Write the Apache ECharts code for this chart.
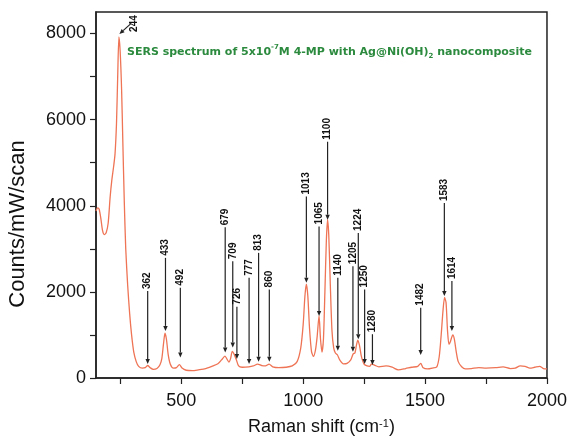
<!DOCTYPE html>
<html>
<head>
<meta charset="utf-8">
<script src="https://cdn.jsdelivr.net/npm/echarts@6/dist/echarts.min.js"></script>
<style>
  html, body { margin: 0; padding: 0; background: #fff; }
  #main { width: 570px; height: 441px; }
</style>
</head>
<body>
<div id="main"></div>
<script>
// spectrum
var shift = [150, 157, 163, 170, 177, 184, 192, 200, 208, 215, 222, 228, 234, 239, 244, 249, 255, 260, 266, 272,
  280, 288, 296, 305, 315, 325, 340, 352, 362, 372, 385, 400, 412, 420, 427, 433, 439, 446, 455, 468,
  480, 492, 503, 520, 545, 570, 600, 630, 650, 665, 679, 688, 695, 702, 709, 716, 726, 735, 750, 777,
  795, 813, 830, 845, 860, 875, 900, 930, 955, 975, 990, 1000, 1007, 1013, 1019, 1026, 1034, 1042, 1050, 1057,
  1065, 1071, 1077, 1083, 1089, 1095, 1100, 1105, 1111, 1118, 1125, 1132, 1140, 1150, 1165, 1180, 1195, 1205, 1212, 1218,
  1224, 1231, 1238, 1245, 1250, 1262, 1272, 1280, 1292, 1310, 1340, 1365, 1390, 1420, 1445, 1470, 1482, 1492, 1510, 1530,
  1548, 1558, 1566, 1574, 1580, 1586, 1592, 1598, 1604, 1610, 1614, 1620, 1628, 1636, 1650, 1665, 1690, 1720, 1750, 1790,
  1820, 1850, 1870, 1890, 1910, 1930, 1950, 1970, 1985, 2000];
var counts = [3880, 3950, 3920, 3700, 3420, 3330, 3380, 3600, 4200, 4600, 4900, 5200, 5900, 7000, 7920, 7600, 6700, 5500, 4100, 3000,
  2150, 1500, 1000, 600, 380, 270, 230, 240, 290, 240, 200, 220, 300, 450, 800, 1040, 900, 550, 320, 230,
  240, 310, 230, 180, 170, 190, 220, 280, 330, 420, 510, 430, 370, 450, 620, 560, 420, 280, 250, 260,
  280, 320, 290, 280, 320, 260, 240, 250, 280, 380, 700, 1250, 1900, 2180, 1900, 1150, 620, 500, 640, 950,
  1450, 900, 600, 900, 2000, 3200, 3680, 3300, 2200, 1100, 700, 580, 540, 420, 330, 340, 420, 560, 580, 750,
  880, 750, 520, 380, 320, 280, 270, 320, 300, 260, 280, 250, 190, 220, 250, 270, 340, 240, 210, 230,
  260, 500, 1000, 1600, 1870, 1750, 1100, 780, 850, 960, 1000, 900, 600, 380, 260, 210, 220, 240, 230, 240,
  260, 220, 230, 280, 270, 230, 250, 270, 220, 210];

// peak annotations: label, arrow tail (x, counts), arrow tip counts
var peakLabels = ['244', '362', '433', '492', '679', '709', '726', '777', '813', '860', '1013', '1065', '1100',
  '1140', '1205', '1224', '1250', '1280', '1482', '1583', '1614'];
var peakX = [246, 362, 435, 496, 680, 711, 728, 778, 817, 861, 1013, 1065, 1100, 1142, 1204, 1226, 1252, 1284, 1482, 1579, 1610];
var tailX = [292, 362, 435, 496, 680, 711, 728, 778, 817, 861, 1013, 1065, 1100, 1142, 1204, 1226, 1252, 1284, 1482, 1579, 1610];
var tailY = [8224, 2020, 2790, 2097, 3500, 2712, 1657, 2328, 2906, 2058, 4215, 3520, 5487, 2328, 2597, 3368, 2058, 1017, 1634, 4062, 2250];
var tipY = [7990, 324, 1094, 478, 594, 710, 440, 324, 377, 377, 2212, 1440, 3676, 632, 609, 902, 324, 300, 532, 1903, 1094];

var xLabels = [500, 1000, 1500, 2000];
var xTicks = [250, 500, 750, 1000, 1250, 1500, 1750, 2000];
var yLabels = [0, 2000, 4000, 6000, 8000];
var yTicks = [0, 1000, 2000, 3000, 4000, 5000, 6000, 7000, 8000];

var spectrum = shift.map(function (x, i) { return [x, counts[i]]; });
var notes = peakLabels.map(function (l, i) { return [peakX[i], tipY[i], tailX[i], tailY[i], l]; });

var chart = echarts.init(document.getElementById('main'), null, {renderer: 'canvas'});

function drawArrow(params, api) {
  var tip = api.coord([api.value(0), api.value(1)]);
  var tail = api.coord([api.value(2), api.value(3)]);
  var dx = tip[0] - tail[0], dy = tip[1] - tail[1];
  var len = Math.sqrt(dx * dx + dy * dy);
  var ux = dx / len, uy = dy / len;
  var hl = 5, hw = 2.2;
  var base = [tip[0] - ux * hl, tip[1] - uy * hl];
  var slanted = Math.abs(dx) > 1;
  return {
    type: 'group',
    children: [
      {type: 'line', shape: {x1: tail[0], y1: tail[1], x2: base[0], y2: base[1]},
        style: {stroke: '#222', lineWidth: 1.2}},
      {type: 'polygon', shape: {points: [tip, [base[0] - uy * hw, base[1] + ux * hw], [base[0] + uy * hw, base[1] - ux * hw]]},
        style: {fill: '#222'}},
      {type: 'text', x: slanted ? tail[0] + 4 : tail[0], y: slanted ? tail[1] + 8 : tail[1] - 2, rotation: Math.PI / 2,
        style: {text: api.value(4), fill: '#111', font: 'bold 10px "Liberation Sans", Arial',
          align: 'left', verticalAlign: 'middle'}}
    ]
  };
}

function plain(v) { return String(v); }

chart.setOption({
  animation: false,
  title: {
    text: 'SERS spectrum of 5x10{sup|-7}M 4-MP with Ag@Ni(OH){sub|2} nanocomposite',
    left: 122, top: 39,
    textStyle: {
      color: '#2b8a3e', fontSize: 11, fontWeight: 'bold', fontFamily: 'DejaVu Sans', lineHeight: 16,
      rich: {
        sup: {color: '#2b8a3e', fontSize: 7, fontWeight: 'bold', fontFamily: 'DejaVu Sans', verticalAlign: 'top', lineHeight: 9},
        sub: {color: '#2b8a3e', fontSize: 7, fontWeight: 'bold', fontFamily: 'DejaVu Sans', verticalAlign: 'bottom', lineHeight: 9}
      }
    }
  },
  grid: {left: 96, right: 21, top: 12, bottom: 62, show: true, borderColor: '#222', borderWidth: 1.5},
  xAxis: {
    type: 'value', min: 150, max: 2000,
    name: 'Raman shift (cm{sup|-1})', nameLocation: 'middle', nameGap: 40,
    nameTextStyle: {color: '#111', fontSize: 18, fontFamily: '"Liberation Sans", Arial',
      rich: {sup: {fontSize: 11, verticalAlign: 'top', color: '#111', fontFamily: '"Liberation Sans", Arial'}}},
    axisLine: {lineStyle: {color: '#222', width: 1.5}},
    axisTick: {customValues: xTicks, length: 6, lineStyle: {color: '#222', width: 1.2}},
    axisLabel: {customValues: xLabels, formatter: plain, color: '#111', fontSize: 18, fontFamily: '"Liberation Sans", Arial', margin: 14},
    splitLine: {show: false}
  },
  yAxis: {
    type: 'value', min: 0, max: 8500,
    axisLine: {show: true, lineStyle: {color: '#222', width: 1.5}},
    axisTick: {show: true, customValues: yTicks, length: 6, lineStyle: {color: '#222', width: 1.2}},
    axisLabel: {customValues: yLabels, formatter: plain, color: '#111', fontSize: 18, fontFamily: '"Liberation Sans", Arial', margin: 10},
    splitLine: {show: false}
  },
  graphic: [{
    type: 'text', x: 18, y: 224, rotation: Math.PI / 2,
    style: {text: 'Counts/mW/scan', fill: '#111', font: '22px "Liberation Sans", Arial', align: 'center', verticalAlign: 'middle'}
  }],
  series: [
    {type: 'line', data: spectrum, showSymbol: false, smooth: 0.25,
      lineStyle: {color: '#ee7455', width: 1.3}, z: 2},
    {type: 'custom', data: notes, renderItem: drawArrow, clip: false, z: 3,
      encode: {x: 0, y: 1}}
  ]
});
</script>
</body>
</html>
